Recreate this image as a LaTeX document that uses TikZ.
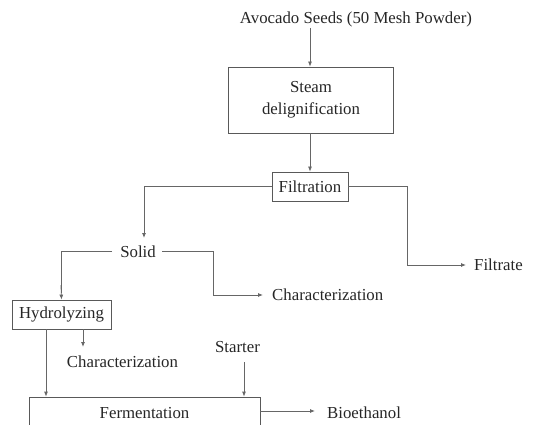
\documentclass[tikz,border=0pt]{standalone}
\usepackage{fontspec}
\setmainfont{Liberation Serif}
\usepackage{tikz}
\usetikzlibrary{arrows.meta}

\begin{document}
\begin{tikzpicture}[x=1pt,y=-1pt,
		font=\fontsize{16.8}{19}\selectfont,
		every node/.style={text=black!85},
		procbox/.style={draw=black!65,line width=0.8pt,inner sep=0pt},
		flow/.style={draw=black!60,line width=0.8pt,-{Latex[length=5pt,width=4pt]}},
		line/.style={draw=black!60,line width=0.8pt}]
			\clip (0,0) rectangle (552,425);
			% Bahan dan proses awal
			\node (seeds) at (356,19) {Avocado Seeds (50 Mesh Powder)};
			\node[procbox,minimum width=165pt,minimum height=66pt,align=center] (steam) at (311,100) {Steam\\[3pt]delignification};
			\node[procbox,minimum width=76pt,minimum height=29pt] (filt) at (310,186.5) {Filtration};
			\node[inner sep=0pt] (solid) at (138,252) {Solid};
			\node[anchor=west,inner sep=0pt] (filtrate) at (474,265) {Filtrate};
			\node[anchor=west,inner sep=0pt] (char1) at (272,295) {Characterization};
			% Hidrolisis dan fermentasi
			\node[procbox,minimum width=99pt,minimum height=29pt] (hydro) at (61.5,314.5) {Hydrolyzing};
			\node[inner sep=0pt] (char2) at (122.5,362) {Characterization};
			\node[inner sep=0pt] (starter) at (237.5,347) {Starter};
			\node[procbox,minimum width=231pt,minimum height=32pt] (ferm) at (144.5,413) {Fermentation};
			\node[anchor=west,inner sep=0pt] (bioeth) at (327,413) {Bioethanol};
			% Panah
			\draw[flow] (310,28) -- (steam.north -| 310,0);
			\draw[flow] (steam.south -| filt.north) -- (filt.north);
			\draw[flow] (filt.west) -| (144,238);
			\draw[flow] (filt.east) -| (407,265) -- (466,265);
			\draw[line] (112,251) -| (61,293);
			\draw[flow] (61,285) -- (hydro.north);
			\draw[flow] (162,251) -| (213,295) -- (263,295);
			\draw[flow] (hydro.south -| 83,0) -- (83,347);
			\draw[flow] (hydro.south -| 46,0) -- (ferm.north -| 46,0);
			\draw[flow] (244,362) -- (ferm.north -| 244,0);
			\draw[flow] (ferm.east |- 0,411) -- (315,411);
		\end{tikzpicture}
\end{document}
